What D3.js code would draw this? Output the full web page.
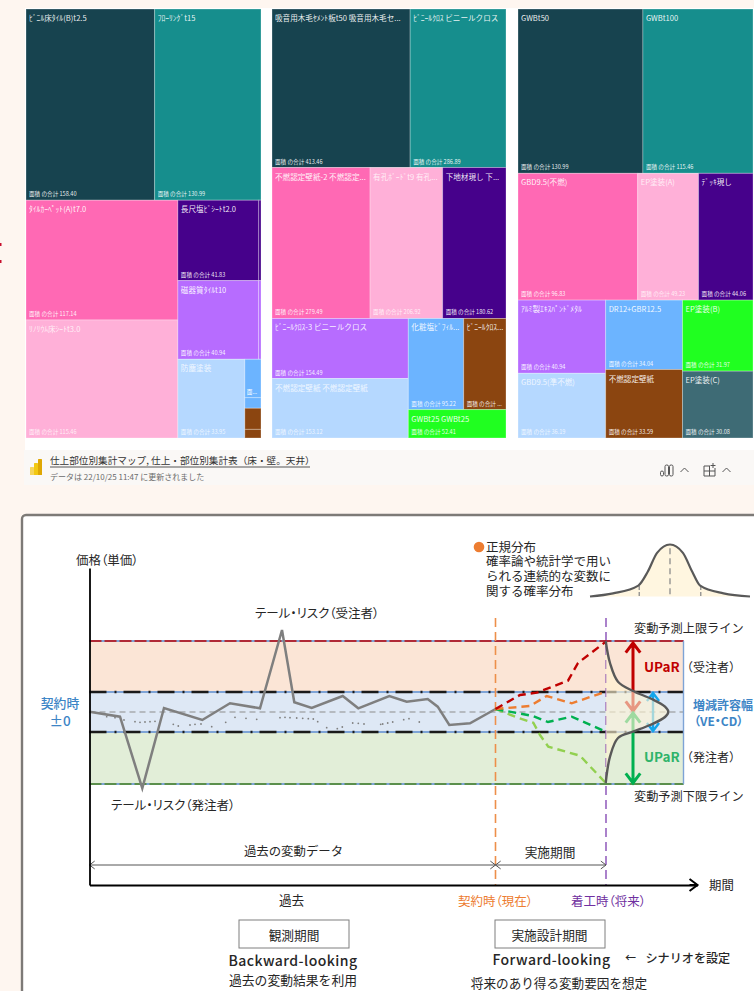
<!DOCTYPE html>
<html lang="ja">
<head>
<meta charset="utf-8">
<title>仕上部位別集計マップと価格変動リスク</title>
<script src="https://cdn.jsdelivr.net/npm/d3@7"></script>
<style>
  html, body { margin: 0; padding: 0; background: #fef6f0; overflow: hidden; }
  svg { display: block; font-family: "Noto Sans CJK JP", "Noto Sans", sans-serif; }
  .tight { font-feature-settings: "palt"; }
</style>
</head>
<body>
<svg id="sheet" width="754" height="991"></svg>
<script>
// ---- Area totals by finish, one set of arrays per building part ----
const floorNames = ["ﾋﾞﾆﾙ床ﾀｲﾙ(B)t2.5", "ﾌﾛｰﾘﾝｸﾞt15", "ﾀｲﾙｶｰﾍﾟｯﾄ(A)t7.0", "ﾘﾉﾘｳﾑ床ｼｰﾄt3.0", "長尺塩ﾋﾞｼｰﾄt2.0", "磁器質ﾀｲﾙt10", "防塵塗装", "", "", "", "", "", ""];
const floorAreas = [158.40, 130.99, 117.14, 115.46, 41.83, 40.94, 33.95, 4.0, 1.1, 2.2, 0.9, 1.2, 1.2];
const floorTones = [0, 1, 2, 3, 4, 5, 6, 7, 7, 8, 8, 4, 5];
const floorRows  = [[0, 1], [[2, 3], [[4, 11], [5, 12], [6, [7, 8, 9, 10]]]]];

const wallNames = ["吸音用木毛ｾﾒﾝﾄ板t50 吸音用木毛セ...", "ﾋﾞﾆｰﾙｸﾛｽ ビニールクロス", "不燃認定壁紙-2 不燃認定...", "有孔ﾎﾞｰﾄﾞt9 有孔...", "下地材現し 下...", "ﾋﾞﾆｰﾙｸﾛｽ-3 ビニールクロス", "不燃認定壁紙 不燃認定壁紙", "化粧塩ﾋﾞﾌｨﾙ...", "ﾋﾞﾆｰﾙｸﾛｽ...", "GWBt25 GWBt25"];
const wallAreas = [413.46, 286.89, 279.49, 206.92, 180.62, 154.49, 153.12, 95.22, 72.8, 52.41];
const wallTones = [0, 1, 2, 3, 4, 5, 6, 7, 8, 9];
const wallRows  = [[0, 1], [2, 3, 4], [[5, 6], [[7, 8], 9]]];

const ceilingNames = ["GWBt50", "GWBt100", "GBD9.5(不燃)", "EP塗装(A)", "ﾃﾞｯｷ現し", "ｱﾙﾐ製ｴｷｽﾊﾟﾝﾄﾞﾒﾀﾙ", "GBD9.5(準不燃)", "DR12+GBR12.5", "不燃認定壁紙", "EP塗装(B)", "EP塗装(C)"];
const ceilingAreas = [130.99, 115.46, 96.83, 49.23, 44.06, 40.94, 36.19, 34.04, 33.59, 31.97, 30.08];
const ceilingTones = [0, 1, 2, 3, 4, 5, 6, 7, 8, 9, 10];
const ceilingRows  = [[0, 1], [2, 3, 4], [[5, 6], [7, 8], [9, 10]]];

// Tiles whose total does not fit in the label
const truncatedTotals = { "ﾋﾞﾆｰﾙｸﾛｽ...": "面積 の合計 ..." };

const tonePalette = ["#17434f", "#168e8d", "#ff69b4", "#ffb0d8", "#46018b", "#b76cff", "#b5d8ff", "#6cb4ff", "#8b4510", "#20ff20", "#3e6b75"];
const paleTones = [3, 6];

// ---- Price movement over time: t is the period, v the price change from the contract price ----
const bandUpper = 10, bandLower = -10, limitUpper = 35.5, limitLower = -36;
const timeContract = 203, timeStart = 258.25, timeBandEnd = 297;

const pastPeriods = [0, 15.25, 26.4, 37.25, 56.4, 70.25, 85.25, 96.25, 102.4, 111.1, 126.6, 134.4, 149.9, 158.6, 169.1, 174.1, 179.9, 190.25, 203];
const pastPrices  = [0.15, -2.35, -38.15, 2, -4, 4.35, 1.85, 41, 4.85, 2, 8, 1.85, 8, 5.15, 6.5, 2.65, -6.5, -5.65, 1.5];

const dotPeriods = [8.6, 12.75, 17.25, 22.75, 25.25, 27.75, 30.25, 32.75, 41.9, 44.4, 50.25, 52.75, 55.75, 61.1, 68.1, 72.75, 78.25, 83.6, 95.25, 97.75, 100.25, 103.6, 106.6, 109.4, 111.9, 114.1, 118.6, 123.9, 126.4, 131.6, 134.4, 137.25, 145.6, 146.6, 149.1, 151.6, 157.1, 159.75, 164.9];
const dotPrices  = [-2.35, -2.85, -4, -4.85, -5.15, -5, -4.85, -4.65, -6.15, -7, -6.5, -6.15, -6, -7.35, -5.15, -2.65, -3.15, -3.65, -2.85, -2.65, -2.85, -3, -3.15, -3.35, -3.5, -4.85, -7.85, -8.35, -7.5, -5.5, -5.65, -6, -6.15, -6, -5.5, -5, -3.85, -3.35, -5];

const redPeriods = [203, 215.25, 223.6, 239.25, 244.25, 258.6];
const redPrices  = [1.5, 8.5, 9.65, 15.65, 24.5, 35.5];
const orangePeriods = [203, 220.25, 228.6, 241.1, 258.1];
const orangePrices  = [1.5, 3, 8, 4.35, 10.15];
const greenPeriods = [203, 221.75, 229.25, 241.1, 258.1];
const greenPrices  = [1.5, -2, -5, -2.35, -9.85];
const limePeriods = [203, 213.6, 221.9, 225.25, 229.4, 245.25, 258.1];
const limePrices  = [1.5, -2.65, -5.35, -11.5, -17.35, -21.85, -35.5];

const densityPeriods = [258.1, 260.25, 264.25, 271.75, 281.1, 287.75, 289.4, 287.75, 280.25, 271.75, 264.25, 260.25, 258.1];
const densityPrices  = [35.5, 24.5, 15.15, 10.5, 6.5, 2.65, 0.15, -2.5, -6.5, -9.85, -13, -22.35, -35.5];

// Small bell curve beside the note on the normal distribution
const bellSigmas   = [-2.6, -1.85, -1.03, -0.72, -0.42, 0, 0.42, 0.72, 0.98, 1.74, 2.6];
const bellDensity  = [0, 0.06, 0.21, 0.48, 0.84, 1, 0.84, 0.48, 0.21, 0.06, 0];
const bellGuides   = [-1, 0, 1];

const svg = d3.select("#sheet");

function label(parent, str, x, y, opts = {}) {
  return parent.append("text")
    .attr("class", opts.tight ? "tight" : null)
    .attr("x", x).attr("y", y)
    .attr("dominant-baseline", "central")
    .attr("text-anchor", opts.anchor || "start")
    .attr("font-size", opts.size || 12.5)
    .attr("font-weight", opts.weight || 400)
    .attr("letter-spacing", opts.spacing || null)
    .attr("fill", opts.fill || "#262626")
    .attr("fill-opacity", opts.opacity == null ? 1 : opts.opacity)
    .text(str);
}

// ---- Upper report: three treemaps on a white card ----
svg.append("rect").attr("x", 25).attr("y", 8).attr("width", 729).attr("height", 442).attr("fill", "#ffffff");

function drawTreemap(names, areas, tones, rows, box) {
  const root = d3.hierarchy(rows, d => Array.isArray(d) ? d : null)
    .sum(d => Array.isArray(d) ? 0 : areas[d]);
  // Rows and columns alternate with depth, in the order the arrays give
  d3.treemap()
    .size([box.w, box.h])
    .tile((node, x0, y0, x1, y1) =>
      (node.depth % 2 ? d3.treemapDice : d3.treemapSlice)(node, x0, y0, x1, y1))(root);

  const g = svg.append("g").attr("transform", `translate(${box.x},${box.y})`);
  const tile = g.selectAll("g").data(root.leaves()).join("g")
    .attr("transform", d => `translate(${d.x0},${d.y0})`);
  tile.append("rect")
    .attr("width", d => d.x1 - d.x0)
    .attr("height", d => d.y1 - d.y0)
    .attr("fill", d => tonePalette[tones[d.data]])
    .attr("stroke", "#ffffff").attr("stroke-opacity", 0.28).attr("stroke-width", 1);
  tile.each(function (d) {
    const name = names[d.data];
    if (!name) return;
    const sel = d3.select(this);
    const alpha = paleTones.includes(tones[d.data]) ? 0.8 : 0.92;
    label(sel, name, 3, 8.5, { size: 7.6, fill: "#ffffff", opacity: alpha });
    const total = truncatedTotals[name] || ("面積 の合計 " + d3.format(".2f")(areas[d.data]));
    label(sel, total, 3, d.y1 - d.y0 - 6, { size: 5.6, fill: "#ffffff", opacity: alpha });
  });
  return root;
}

const floorRoot = drawTreemap(floorNames, floorAreas, floorTones, floorRows, { x: 26, y: 9, w: 235, h: 429 });
drawTreemap(wallNames, wallAreas, wallTones, wallRows, { x: 272, y: 9, w: 234, h: 429 });
drawTreemap(ceilingNames, ceilingAreas, ceilingTones, ceilingRows, { x: 518, y: 9, w: 235, h: 429 });

// The one narrow floor tile that still carries a clipped label
const narrowTile = floorRoot.leaves().find(d => d.data === 7);
label(svg, "面...", 26 + narrowTile.x0 + 2, 9 + narrowTile.y1 - 6, { size: 5.6, fill: "#ffffff" });

// Marker clipped by the page edge
svg.append("rect").attr("x", 0).attr("y", 243).attr("width", 1.5).attr("height", 3).attr("fill", "#c8102e");
svg.append("rect").attr("x", 0).attr("y", 260).attr("width", 1.5).attr("height", 3).attr("fill", "#c8102e");

// ---- Report footer ----
svg.append("rect").attr("x", 24).attr("y", 450).attr("width", 730).attr("height", 35).attr("fill", "#faf8f6");
const logoBars = [[30, 467, 4, 8, "#f6d55c"], [34, 463, 4, 12, "#f2c811"], [38, 459, 4, 16, "#dfa703"]];
svg.selectAll("rect.logo").data(logoBars).join("rect").attr("class", "logo")
  .attr("x", d => d[0]).attr("y", d => d[1]).attr("width", d => d[2]).attr("height", d => d[3])
  .attr("rx", 0.6).attr("fill", d => d[4]);
label(svg, "仕上部位別集計マップ, 仕上・部位別集計表（床・壁。天井）", 50, 459.5, { size: 9.65, fill: "#333333" });
svg.append("line").attr("x1", 50).attr("x2", 310).attr("y1", 467).attr("y2", 467).attr("stroke", "#555555");
label(svg, "データは 22/10/25 11:47 に更新されました", 50, 476, { size: 8, fill: "#6b6b6b" });

const footIcons = svg.append("g").attr("fill", "none").attr("stroke", "#555555").attr("stroke-width", 1);
[[660.5, 471, 3], [665, 465, 3.5], [669.5, 465, 3.5]].forEach(b =>
  footIcons.append("rect").attr("x", b[0]).attr("y", b[1]).attr("width", b[2]).attr("height", 476 - b[1]).attr("rx", 1.5));
footIcons.append("path").attr("d", "M680.5 472 l4 -4 l4 4");
footIcons.append("path").attr("d", "M704 466 h6 M704 466 v10 h11 v-8 M704 471 h11 M709.5 466 v10 M713 463 v5 M710.5 465.5 h5");
footIcons.append("path").attr("d", "M722.5 472 l4 -4 l4 4");

// ---- Lower diagram: price movement before and after the contract ----
svg.append("rect").attr("x", 22).attr("y", 515).attr("width", 820).attr("height", 600).attr("rx", 4)
  .attr("fill", "#ffffff").attr("stroke", "#7d7a77").attr("stroke-width", 2.4);

const x = d3.scaleLinear().domain([0, 304]).range([89.5, 697.5]);
const y = d3.scaleLinear().domain([-86.5, 72]).range([885, 568]);
const plot = svg.append("g");

const bands = [
  { top: limitUpper, bottom: bandUpper, fill: "#fbe5d6" },
  { top: bandUpper, bottom: bandLower, fill: "#dee8f5" },
  { top: bandLower, bottom: limitLower, fill: "#e2eed8" }
];
plot.selectAll("rect.band").data(bands).join("rect").attr("class", "band")
  .attr("x", x(0)).attr("width", x(timeBandEnd) - x(0))
  .attr("y", d => y(d.top)).attr("height", d => y(d.bottom) - y(d.top))
  .attr("fill", d => d.fill);

function hLine(v, stroke, width, dash) {
  plot.append("line").attr("x1", x(0)).attr("x2", x(timeBandEnd))
    .attr("y1", y(v)).attr("y2", y(v))
    .attr("stroke", stroke).attr("stroke-width", width)
    .attr("stroke-dasharray", dash || null);
}
[limitUpper, bandUpper, bandLower, limitLower].forEach(v => hLine(v, "#7ea3d6", 2));
hLine(limitUpper, "#b02a37", 2, "12 3");
hLine(limitLower, "#5b8f4c", 2, "12 3");
hLine(bandUpper, "#1a1a1a", 2.4, "17 8 2 7");
hLine(bandLower, "#1a1a1a", 2.4, "17 8 2 7");
hLine(0, "#8c8c8c", 1.2, "6 4");
plot.append("line").attr("x1", x(timeBandEnd)).attr("x2", x(timeBandEnd))
  .attr("y1", y(limitUpper)).attr("y2", y(limitLower))
  .attr("stroke", "#7ea3d6").attr("stroke-width", 1.4);

const zip = (ts, vs) => ts.map((t, i) => [t, vs[i]]);
const straight = d3.line().x(d => x(d[0])).y(d => y(d[1]));
const rounded = d3.line().x(d => x(d[0])).y(d => y(d[1])).curve(d3.curveCatmullRom.alpha(0.5));

plot.selectAll("circle.trace").data(zip(dotPeriods, dotPrices)).join("circle").attr("class", "trace")
  .attr("cx", d => x(d[0])).attr("cy", d => y(d[1])).attr("r", 0.9).attr("fill", "#808080");
plot.append("path").attr("d", straight(zip(pastPeriods, pastPrices)))
  .attr("fill", "none").attr("stroke", "#7f7f7f").attr("stroke-width", 2.5);

// Contract and construction-start time markers
[[timeContract, "#ed8f4a", 1.6], [timeStart, "#7e3fb0", 1.3]].forEach(m => {
  plot.append("line").attr("x1", x(m[0])).attr("x2", x(m[0]))
    .attr("y1", y(47)).attr("y2", y(-86.5))
    .attr("stroke", m[1]).attr("stroke-width", m[2]).attr("stroke-dasharray", "9 5");
});

// Arrow shaft with an open head at either end
function arrow(parent, x0, y0, x1, y1, stroke, width, head, ends) {
  const a = Math.atan2(y1 - y0, x1 - x0);
  const tip = (px, py, ang) => {
    const h1 = [px - head * Math.cos(ang - 0.65), py - head * Math.sin(ang - 0.65)];
    const h2 = [px - head * Math.cos(ang + 0.65), py - head * Math.sin(ang + 0.65)];
    return `M${h1[0]} ${h1[1]} L${px} ${py} L${h2[0]} ${h2[1]}`;
  };
  let d = `M${x0} ${y0} L${x1} ${y1}`;
  if (ends !== "end") d += tip(x0, y0, a + Math.PI);
  d += tip(x1, y1, a);
  parent.append("path").attr("d", d).attr("fill", "none")
    .attr("stroke", stroke).attr("stroke-width", width);
}
arrow(plot, x(271.75), y(34.5), x(271.75), y(0.5), "#c00000", 3, 12);
arrow(plot, x(271.75), y(-35.5), x(271.75), y(-0.5), "#00b050", 3, 12);
arrow(plot, x(281.75), y(9.5), x(281.75), y(-9.5), "#12a5ea", 2.4, 10);

// Density of outcomes at construction start, laid sideways over the bands
const densityPoints = zip(densityPeriods, densityPrices);
plot.append("path").attr("d", rounded(densityPoints) + "Z")
  .attr("fill", "#fff3d2").attr("fill-opacity", 0.62);

const scenarios = [
  [zip(limePeriods, limePrices), "#92d050"],
  [zip(greenPeriods, greenPrices), "#00b050"],
  [zip(orangePeriods, orangePrices), "#ed7d31"],
  [zip(redPeriods, redPrices), "#c00000"]
];
plot.selectAll("path.scenario").data(scenarios).join("path").attr("class", "scenario")
  .attr("d", d => straight(d[0])).attr("fill", "none")
  .attr("stroke", d => d[1]).attr("stroke-width", 2.4).attr("stroke-dasharray", "8 5");

plot.append("path").attr("d", rounded(densityPoints))
  .attr("fill", "none").attr("stroke", "#595959").attr("stroke-width", 2.4);

// Axes carry no ticks: only the two arrowed spines
const axisLeft = d3.axisLeft(y).tickValues([]).tickSizeOuter(0);
const axisBottom = d3.axisBottom(x).tickValues([]).tickSizeOuter(0);
const axisG = svg.append("g");
axisG.append("g").attr("transform", `translate(${x(0)},0)`).call(axisLeft)
  .select(".domain").attr("stroke", "#000000").attr("stroke-width", 1.8);
axisG.append("g").attr("transform", `translate(0,${y(-86.5)})`).call(axisBottom)
  .select(".domain").attr("stroke", "#000000").attr("stroke-width", 2);
arrow(axisG, x(300), y(-86.5), x(304), y(-86.5), "#000000", 2, 10, "end");

// Period spans above the time axis
arrow(plot, x(0), y(-76.5), x(timeContract), y(-76.5), "#555555", 1, 6.5);
arrow(plot, x(timeContract), y(-76.5), x(timeStart), y(-76.5), "#555555", 1, 6.5);

// Normal-distribution note with its bell curve
svg.append("circle").attr("cx", 479).attr("cy", 547).attr("r", 5.3).attr("fill", "#ed7d31");
const noteLines = ["正規分布", "確率論や統計学で用い", "られる連続的な変数に", "関する確率分布"];
const note = svg.append("text").attr("font-size", 12.5).attr("fill", "#262626");
note.selectAll("tspan").data(noteLines).join("tspan")
  .attr("x", 486).attr("y", (d, i) => 551.5 + i * 14.7).text(d => d);

const bx = d3.scaleLinear().domain([-2.6, 2.6]).range([590, 750]);
const by = d3.scaleLinear().domain([0, 1]).range([596.5, 544.5]);
const bellPoints = zip(bellSigmas, bellDensity);
const bell = d3.line().x(d => bx(d[0])).y(d => by(d[1])).curve(d3.curveMonotoneX);
svg.append("path").attr("d", bell(bellPoints) + "Z").attr("fill", "#fff6e0");
svg.selectAll("line.guide").data(bellGuides).join("line").attr("class", "guide")
  .attr("x1", d => bx(d)).attr("x2", d => bx(d))
  .attr("y1", d => d === 0 ? by(0.93) : by(0.2)).attr("y2", by(0))
  .attr("stroke", "#8c8c8c").attr("stroke-width", 1.3).attr("stroke-dasharray", d => d === 0 ? "6 4" : "4 2");
svg.append("path").attr("d", bell(bellPoints)).attr("fill", "none")
  .attr("stroke", "#595959").attr("stroke-width", 2.2);

// Diagram captions
const blue = "#3d85c6", green = "#2fb36a", red = "#c00000";
label(svg, "価格（単価）", 76, 559, { tight: true });
label(svg, "テール・リスク（受注者）", 255, 612, { tight: true });
label(svg, "テール・リスク（発注者）", 111, 804, { tight: true });
label(svg, "契約時", 60, 702, { size: 12.8, anchor: "middle", fill: blue, weight: 500 });
label(svg, "±0", 60, 720, { size: 13.5, anchor: "middle", fill: blue, weight: 500 });
label(svg, "変動予測上限ライン", 634, 628, { size: 12.2 });
label(svg, "変動予測下限ライン", 634, 796, { size: 12.2 });
label(svg, "UPaR", 644, 666, { size: 13.5, fill: red, weight: 700 });
label(svg, "（受注者）", 681, 666, { size: 12 });
label(svg, "UPaR", 644, 756, { size: 13.5, fill: green, weight: 700 });
label(svg, "（発注者）", 681, 756, { size: 12 });
label(svg, "増減許容幅", 693, 704, { size: 12, fill: blue, weight: 700 });
label(svg, "（VE・CD）", 694, 720, { size: 12, fill: blue, weight: 700, tight: true });
label(svg, "過去の変動データ", 293.5, 851, { size: 12.4, anchor: "middle" });
label(svg, "実施期間", 550, 851, { size: 12.7, anchor: "middle" });
label(svg, "期間", 709, 885, { size: 12.4 });
label(svg, "過去", 291.5, 899, { size: 12.6, anchor: "middle" });
label(svg, "契約時（現在）", 495.5, 900, { anchor: "middle", fill: "#ed7d31", tight: true });
label(svg, "着工時（将来）", 608.5, 900, { anchor: "middle", fill: "#7030a0", tight: true });

[[239, 110, "観測期間", 294], [495, 110, "実施設計期間", 549.5]].forEach(b => {
  svg.append("rect").attr("x", b[0]).attr("y", 920).attr("width", b[1]).attr("height", 28)
    .attr("fill", "#ffffff").attr("stroke", "#7f7f7f").attr("stroke-width", 1);
  label(svg, b[2], b[3], 934, { size: 12.7, anchor: "middle" });
});
label(svg, "Backward-looking", 293, 960, { size: 14, anchor: "middle", weight: 500, spacing: 0.45 });
label(svg, "過去の変動結果を利用", 293, 979, { size: 12.8, anchor: "middle" });
label(svg, "Forward-looking", 551.5, 959, { size: 14, anchor: "middle", weight: 500, spacing: 0.45 });
label(svg, "←", 625, 957, { size: 11, weight: 500 });
label(svg, "シナリオを設定", 645.5, 957, { size: 12.1, weight: 500 });
label(svg, "将来のあり得る変動要因を想定", 559, 982, { size: 12.6, anchor: "middle" });
</script>
</body>
</html>
